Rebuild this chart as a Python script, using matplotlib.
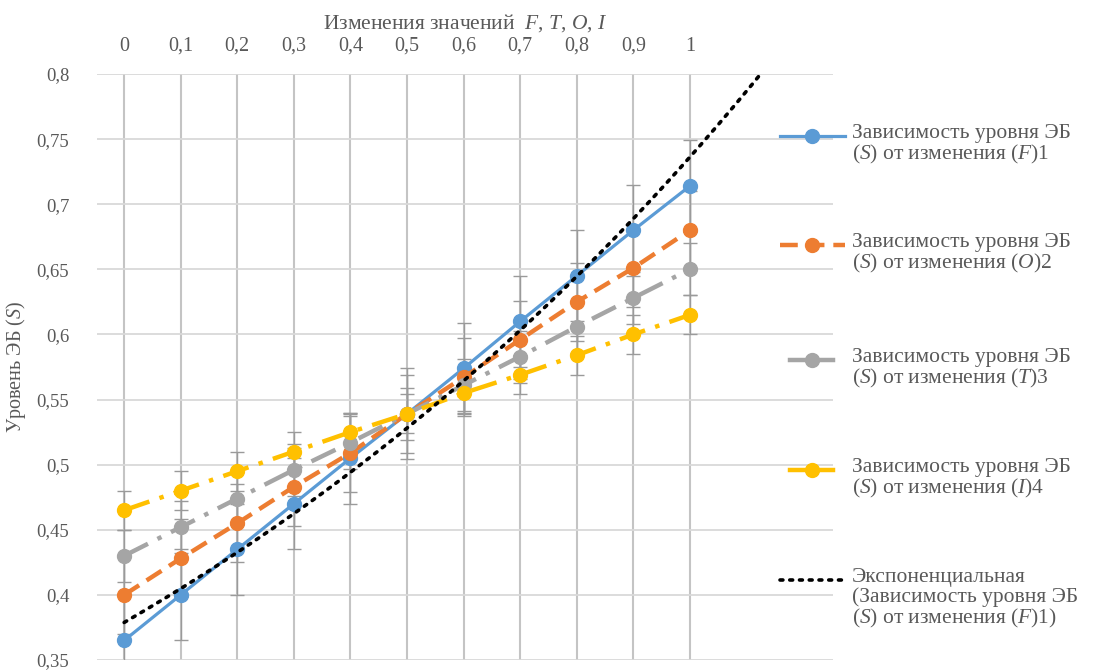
import numpy as np
import matplotlib
matplotlib.use("Agg")
import matplotlib.pyplot as plt
from matplotlib.lines import Line2D

plt.rcParams['font.family'] = ['Liberation Serif', 'DejaVu Serif']
plt.rcParams['mathtext.fontset'] = 'custom'
plt.rcParams['mathtext.rm'] = 'Liberation Serif'
plt.rcParams['mathtext.it'] = 'Liberation Serif:italic'

# data
x_vals = [0, 0.1, 0.2, 0.3, 0.4, 0.5, 0.6, 0.7, 0.8, 0.9, 1.0]
x_labels = ['0', '0,1', '0,2', '0,3', '0,4', '0,5', '0,6', '0,7', '0,8', '0,9', '1']
s_f = [0.365, 0.400, 0.435, 0.470, 0.505, 0.539, 0.574, 0.610, 0.645, 0.680, 0.714]
s_o = [0.400, 0.428, 0.455, 0.483, 0.509, 0.539, 0.567, 0.596, 0.625, 0.651, 0.680]
s_t = [0.430, 0.452, 0.474, 0.496, 0.517, 0.539, 0.561, 0.583, 0.606, 0.628, 0.650]
s_i = [0.465, 0.480, 0.495, 0.510, 0.525, 0.539, 0.555, 0.569, 0.584, 0.600, 0.615]
err_f, err_o, err_t, err_i = 0.035, 0.03, 0.02, 0.015
y_ticks = [0.35, 0.4, 0.45, 0.5, 0.55, 0.6, 0.65, 0.7, 0.75, 0.8]
y_labels = ['0,35', '0,4', '0,45', '0,5', '0,55', '0,6', '0,65', '0,7', '0,75', '0,8']

labels = [
    'Зависимость уровня ЭБ\n($\\mathit{S}$) от изменения ($\\mathit{F}$)1',
    'Зависимость уровня ЭБ\n($\\mathit{S}$) от изменения ($\\mathit{O}$)2',
    'Зависимость уровня ЭБ\n($\\mathit{S}$) от изменения ($\\mathit{T}$)3',
    'Зависимость уровня ЭБ\n($\\mathit{S}$) от изменения ($\\mathit{I}$)4',
    'Экспоненциальная\n(Зависимость уровня ЭБ\n($\\mathit{S}$) от изменения ($\\mathit{F}$)1)',
]

blue, orange, gray, yellow = '#5B9BD5', '#ED7D31', '#A5A5A5', '#FFC000'
txt = '#595959'
W, H = 1093, 671

fig = plt.figure(figsize=(W / 100, H / 100), dpi=100)
ax = fig.add_axes([97 / W, 11 / H, (833 - 97) / W, (660 - 74) / H])

# error bars first, behind everything
for vals, e in [(s_f, err_f), (s_o, err_o), (s_t, err_t), (s_i, err_i)]:
    ax.errorbar(x_vals, vals, yerr=e, fmt='none', ecolor='#9a9a9a', elinewidth=1,
                capsize=5, capthick=1, zorder=2)

ax.plot(x_vals, s_f, color=blue, lw=2.3, marker='o', ms=10, zorder=4)
ax.plot(x_vals, s_o, color=orange, lw=3.2, ls=(0, (4, 2)), marker='o', ms=10, zorder=5)
ax.plot(x_vals, s_t, color=gray, lw=3.2, ls=(0, (6, 2.4, 1, 2.4)), marker='o', ms=10, zorder=6)
ax.plot(x_vals, s_i, color=yellow, lw=3.2, ls=(0, (6, 2.4, 1, 2.4)), marker='o', ms=10, zorder=7)

# exponential trendline fitted to series F
b, ln_a = np.polyfit(x_vals, np.log(s_f), 1)
xt = np.linspace(0, 1.2, 200)
ax.plot(xt, np.exp(ln_a) * np.exp(b * xt), color='black', lw=2.6, ls=(0, (0.8, 1.9)),
        dash_capstyle='round', zorder=8)

ax.set_xlim(-0.048, 1.253)
ax.set_ylim(0.35, 0.8)
ax.set_xticks(x_vals)
ax.set_xticklabels(x_labels)
ax.set_yticks(y_ticks)
ax.set_yticklabels(y_labels)
ax.xaxis.tick_top()
ax.xaxis.set_label_position('top')
ax.tick_params(axis='both', length=0, colors=txt)
ax.tick_params(axis='x', pad=13, labelsize=14.5)
ax.tick_params(axis='y', pad=20, labelsize=13.5)
ax.grid(axis='y', color='#d9d9d9', lw=1.3, zorder=0)
ax.grid(axis='x', color='#c4c4c4', lw=1.5, zorder=1)
ax.set_axisbelow(True)
for s in ax.spines.values():
    s.set_visible(False)

ax.set_xlabel('Изменения значений  $\\mathit{F}$, $\\mathit{T}$, $\\mathit{O}$, $\\mathit{I}$',
              fontsize=15.5, color=txt, labelpad=6)
ax.set_ylabel('Уровень ЭБ ($\\mathit{S}$)', fontsize=14.5, color=txt)
ax.yaxis.set_label_coords(-0.094, 0.5)

# legend drawn by hand, handle aligned with first text line
leg_y = [136, 245, 360, 470, 580]
styles = [
    dict(color=blue, lw=2.3, ls='-'),
    dict(color=orange, lw=3.2, ls=(0, (4, 2))),
    dict(color=gray, lw=3.2, ls='-'),
    dict(color=yellow, lw=3.2, ls='-'),
    dict(color='black', lw=2.6, ls=(0, (0.8, 1.9)), dash_capstyle='round'),
]
for i, (yy, st, lab) in enumerate(zip(leg_y, styles, labels)):
    yf = 1 - yy / H
    x0 = 780 if i in (0, 1, 4) else 790
    x1 = 845 if i in (0, 1, 4) else 833
    fig.add_artist(Line2D([x0 / W, x1 / W], [yf, yf], transform=fig.transFigure, **st))
    if i < 4:
        fig.add_artist(Line2D([812 / W], [yf], transform=fig.transFigure, marker='o',
                              ms=10, color=st['color'], ls='none'))
    fig.text(852 / W, yf + 12 / H, lab, fontsize=15.5, color=txt, va='top', ha='left',
             linespacing=1.02)

fig.savefig('out.png', dpi=100)
